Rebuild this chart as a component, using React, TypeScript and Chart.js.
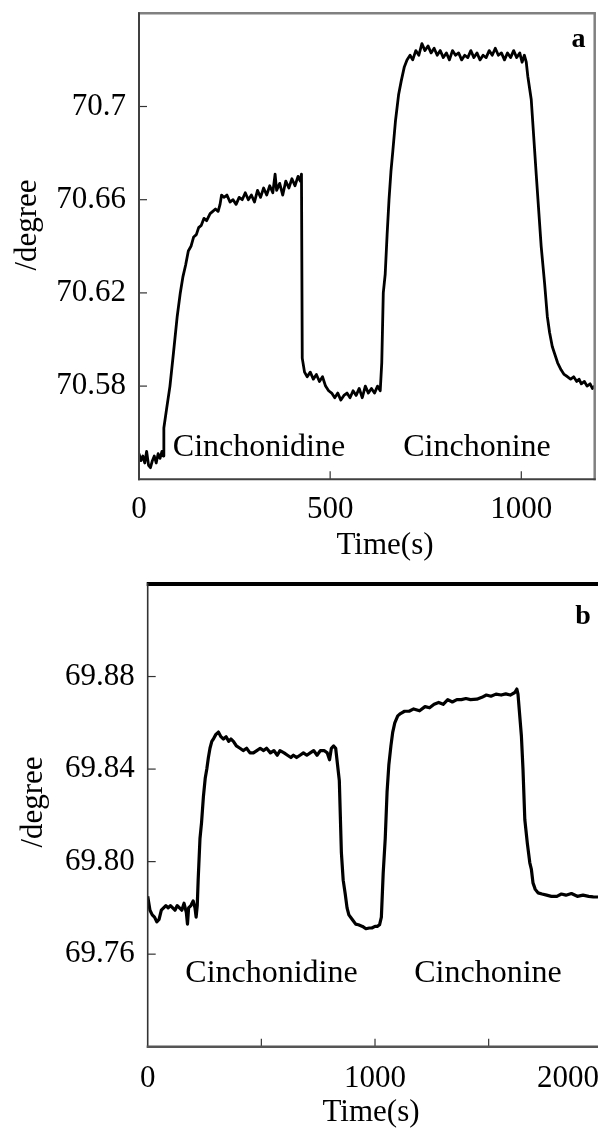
import React, { useEffect, useRef } from 'react';
import { Chart, registerables } from 'chart.js';

Chart.register(...registerables);

const FONT = '"Liberation Serif", "Times New Roman", serif';

// ---------- Panel a ----------
const timeA = [
  0, 5, 10, 15, 20, 25, 30, 35, 40, 45, 50, 55, 60, 63, 65, 72, 81, 90, 100, 108,
  115, 122, 129, 136, 143, 150, 156, 163, 170, 177, 186, 193, 200, 207, 212, 216, 222, 230, 238, 246,
  254, 262, 270, 278, 286, 294, 302, 310, 318, 326, 334, 342, 350, 356, 360, 368, 376, 384, 392, 400,
  408, 416, 422, 425, 427, 433, 440, 448, 456, 464, 472, 480, 488, 496, 504, 512, 520, 528, 536, 544,
  552, 560, 568, 576, 584, 592, 600, 608, 616, 624, 631, 635, 639, 644, 649, 654, 659, 664, 671, 679,
  686, 694, 701, 709, 716, 724, 732, 740, 748, 756, 764, 772, 780, 788, 796, 804, 812, 820, 828, 836,
  844, 852, 860, 868, 876, 884, 892, 900, 908, 916, 924, 932, 940, 948, 956, 964, 972, 980, 988, 996,
  1002, 1008, 1013, 1017, 1026, 1039, 1052, 1061, 1068, 1074, 1081, 1087, 1095, 1104, 1112, 1121, 1129, 1137, 1145, 1151,
  1157, 1165, 1172, 1180, 1186, 1192,
];
const angleA = [
  70.551, 70.548, 70.55, 70.547, 70.552, 70.546, 70.545, 70.548, 70.55, 70.547, 70.551, 70.549, 70.552, 70.55, 70.562, 70.57, 70.58, 70.594, 70.61, 70.62,
  70.627, 70.632, 70.638, 70.64, 70.644, 70.645, 70.648, 70.649, 70.652, 70.651, 70.654, 70.655, 70.656, 70.655, 70.658, 70.662, 70.661, 70.662, 70.659, 70.66,
  70.658, 70.661, 70.66, 70.663, 70.66, 70.662, 70.659, 70.664, 70.661, 70.665, 70.662, 70.666, 70.663, 70.671, 70.664, 70.667, 70.662, 70.668, 70.665, 70.669,
  70.666, 70.67, 70.668, 70.671, 70.592, 70.586, 70.584, 70.586, 70.583, 70.585, 70.582, 70.584, 70.58, 70.578, 70.577, 70.575, 70.577, 70.574, 70.576, 70.577,
  70.575, 70.578, 70.576, 70.579, 70.575, 70.58, 70.577, 70.579, 70.577, 70.58, 70.578, 70.59, 70.62, 70.628, 70.645, 70.66, 70.672, 70.681, 70.694, 70.705,
  70.711, 70.717, 70.72, 70.722, 70.72, 70.724, 70.722, 70.727, 70.724, 70.726, 70.723, 70.725, 70.722, 70.724, 70.721, 70.723, 70.72, 70.724, 70.722, 70.723,
  70.72, 70.722, 70.721, 70.724, 70.721, 70.723, 70.72, 70.722, 70.721, 70.724, 70.722, 70.725, 70.722, 70.723, 70.72, 70.723, 70.721, 70.724, 70.721, 70.723,
  70.719, 70.722, 70.719, 70.713, 70.703, 70.671, 70.64, 70.624, 70.61, 70.603, 70.597, 70.594, 70.59, 70.587, 70.585, 70.584, 70.583, 70.584, 70.582, 70.583,
  70.581, 70.582, 70.58, 70.581, 70.579, 70.58,
];
const yTicksA = [70.58, 70.62, 70.66, 70.7];
const xTickMarksA = [500, 1000];
const xLabelsA = [0, 500, 1000];

// ---------- Panel b ----------
const timeB = [
  0, 10, 20, 30, 40, 50, 60, 70, 80, 90, 100, 110, 120, 130, 140, 150, 160, 170, 175, 180,
  190, 200, 208, 213, 218, 222, 230, 237, 245, 253, 260, 267, 274, 282, 289, 300, 311, 322, 333, 345,
  356, 366, 377, 390, 406, 420, 435, 450, 465, 480, 495, 510, 523, 540, 555, 570, 582, 600, 615, 630,
  641, 655, 670, 685, 700, 715, 730, 745, 760, 776, 790, 800, 808, 818, 827, 835, 843, 852, 860, 869,
  877, 885, 900, 915, 927, 945, 960, 975, 986, 1000, 1010, 1020, 1028, 1036, 1045, 1053, 1061, 1070, 1078, 1087,
  1100, 1112, 1130, 1150, 1170, 1196, 1220, 1240, 1260, 1280, 1300, 1320, 1340, 1360, 1380, 1400, 1420, 1448, 1470, 1490,
  1510, 1532, 1555, 1575, 1595, 1615, 1624, 1629, 1644, 1651, 1659, 1670, 1681, 1688, 1695, 1705, 1717, 1735, 1755, 1776,
  1800, 1820, 1840, 1864, 1890, 1915, 1940, 1960, 1981,
];
const angleB = [
  69.785, 69.779, 69.777, 69.776, 69.774, 69.775, 69.779, 69.78, 69.781, 69.78, 69.781, 69.78, 69.779, 69.781, 69.78, 69.779, 69.782, 69.778, 69.773, 69.78,
  69.781, 69.783, 69.78, 69.776, 69.781, 69.792, 69.81, 69.817, 69.828, 69.836, 69.84, 69.845, 69.849, 69.852, 69.853, 69.855, 69.856, 69.854, 69.853, 69.854,
  69.852, 69.853, 69.852, 69.85, 69.849, 69.848, 69.849, 69.847, 69.847, 69.848, 69.849, 69.848, 69.849, 69.847, 69.848, 69.846, 69.848, 69.847, 69.846, 69.845,
  69.846, 69.845, 69.846, 69.847, 69.846, 69.847, 69.848, 69.846, 69.848, 69.848, 69.847, 69.844, 69.849, 69.85, 69.849, 69.842, 69.835, 69.804, 69.792, 69.786,
  69.78, 69.777, 69.775, 69.773, 69.7727, 69.772, 69.771, 69.7713, 69.7713, 69.772, 69.772, 69.7727, 69.776, 69.795, 69.81, 69.83, 69.842, 69.85, 69.856, 69.86,
  69.863, 69.864, 69.865, 69.865, 69.866, 69.8652, 69.867, 69.8665, 69.868, 69.8688, 69.868, 69.87, 69.869, 69.87, 69.87, 69.8705, 69.87, 69.8702, 69.871, 69.872,
  69.8715, 69.8724, 69.872, 69.8725, 69.872, 69.8731, 69.8746, 69.8724, 69.8543, 69.84, 69.8182, 69.808, 69.7995, 69.7966, 69.7908, 69.788, 69.7865, 69.786, 69.7855, 69.785,
  69.785, 69.786, 69.7855, 69.7862, 69.785, 69.7855, 69.785, 69.7848, 69.7847,
];
const yTicksB = [69.76, 69.8, 69.84, 69.88];
const xTickMarksB = [500, 1000, 1500];
const xLabelsB = [0, 1000, 2000];

const seriesLabel = 'Cinchonidine / Cinchonine';

const overlayPlugin = {
  id: 'overlay',
  afterDraw(chart: any, _args: any, o: any) {
    const ctx = chart.ctx;
    const a = chart.chartArea;
    const xs = chart.scales.x;
    const ys = chart.scales.y;
    const line = (x1: number, y1: number, x2: number, y2: number) => {
      ctx.beginPath();
      ctx.moveTo(x1, y1);
      ctx.lineTo(x2, y2);
      ctx.stroke();
    };
    ctx.save();
    // inward tick marks
    ctx.strokeStyle = '#333';
    ctx.lineWidth = 1.2;
    o.yTicks.forEach((v: number) => {
      const y = ys.getPixelForValue(v);
      line(a.left, y, a.left + 8, y);
    });
    o.xTicks.forEach((v: number) => {
      const x = xs.getPixelForValue(v);
      line(x, a.bottom, x, a.bottom - 8);
    });
    // frame
    o.frame.forEach((f: any) => {
      ctx.strokeStyle = f.color;
      ctx.lineWidth = f.width;
      if (f.side === 'left') line(a.left, a.top - f.ext, a.left, a.bottom + f.ext);
      if (f.side === 'right') line(a.right, a.top - f.ext, a.right, a.bottom + f.ext);
      if (f.side === 'top') line(a.left - f.ext, a.top, a.right + f.ext, a.top);
      if (f.side === 'bottom') line(a.left - f.ext, a.bottom, a.right + f.ext, a.bottom);
    });
    // x tick labels
    ctx.fillStyle = '#000';
    ctx.textAlign = 'center';
    ctx.textBaseline = 'middle';
    ctx.font = `31px ${FONT}`;
    o.xLabels.forEach((v: number) => {
      const s = String(v);
      const w = ctx.measureText(s).width;
      const x = Math.min(xs.getPixelForValue(v), chart.width - w / 2 + 1);
      ctx.fillText(s, x, a.bottom + o.xLabelGap);
    });
    // axis titles
    ctx.fillText(o.xTitle.text, o.xTitle.x, o.xTitle.y);
    ctx.save();
    ctx.translate(o.yTitle.x, o.yTitle.y);
    ctx.rotate(-Math.PI / 2);
    ctx.fillText(o.yTitle.text, 0, 0);
    ctx.restore();
    // notes
    o.notes.forEach((n: any) => {
      ctx.font = n.font;
      ctx.fillText(n.text, n.x, n.y);
    });
    ctx.restore();
  },
};

function makeConfig(
  times: number[],
  values: number[],
  xMax: number,
  yMin: number,
  yMax: number,
  yTicks: number[],
  yFmt: (v: number) => string,
  yWidth: number,
  xHeight: number,
  padding: any,
  lineWidth: number,
  overlay: any,
) {
  return {
    type: 'line',
    data: {
      datasets: [
        {
          label: seriesLabel,
          data: times.map((t, i) => ({ x: t, y: values[i] })),
          borderColor: '#000',
          borderWidth: lineWidth,
          pointRadius: 0,
          tension: 0,
          fill: false,
          borderJoinStyle: 'round',
        },
      ],
    },
    options: {
      animation: false,
      responsive: false,
      events: [],
      layout: { padding },
      plugins: {
        legend: { display: false },
        tooltip: { enabled: false },
        overlay,
      },
      scales: {
        x: {
          type: 'linear',
          min: 0,
          max: xMax,
          grid: { display: false, drawTicks: false },
          border: { display: false },
          ticks: { display: false },
          afterFit: (s: any) => {
            s.height = xHeight;
            s.paddingLeft = 0;
            s.paddingRight = 0;
          },
        },
        y: {
          type: 'linear',
          min: yMin,
          max: yMax,
          grid: { display: false, drawTicks: false },
          border: { display: false },
          ticks: {
            color: '#000',
            padding: 13,
            font: { family: FONT, size: 31 },
            autoSkip: false,
            callback: (v: number) => yFmt(v),
          },
          afterBuildTicks: (s: any) => {
            s.ticks = yTicks.map((v) => ({ value: v }));
          },
          afterFit: (s: any) => {
            s.width = yWidth;
            s.paddingTop = 0;
            s.paddingBottom = 0;
          },
        },
      },
    },
    plugins: [overlayPlugin],
  };
}

function Panel({ config, height }: { config: any; height: number }) {
  const ref = useRef<HTMLCanvasElement | null>(null);
  useEffect(() => {
    if (!ref.current) return;
    const chart = new Chart(ref.current, config);
    return () => chart.destroy();
  }, []);
  return <canvas ref={ref} width={598} height={height} style={{ display: 'block', width: 598, height }} />;
}

const configA = makeConfig(
  timeA,
  angleA,
  1192,
  70.54,
  70.74,
  yTicksA,
  (v) => String(v),
  139,
  85.7,
  { left: 0, top: 13.3, right: 3.3, bottom: 0 },
  2.8,
  {
    yTicks: yTicksA,
    xTicks: xTickMarksA,
    xLabels: xLabelsA,
    xLabelGap: 31,
    frame: [
      { side: 'top', color: '#808080', width: 2.5, ext: 1 },
      { side: 'right', color: '#808080', width: 2.5, ext: 1 },
      { side: 'left', color: '#404040', width: 2, ext: 1 },
      { side: 'bottom', color: '#404040', width: 2, ext: 1 },
    ],
    xTitle: { text: 'Time(s)', x: 385, y: 546 },
    yTitle: { text: '/degree', x: 28, y: 225 },
    notes: [
      { text: 'Cinchonidine', x: 259, y: 448, font: `32px ${FONT}` },
      { text: 'Cinchonine', x: 477, y: 448, font: `32px ${FONT}` },
      { text: 'a', x: 578.5, y: 40, font: `bold 28px ${FONT}` },
    ],
  },
);

const configB = makeConfig(
  timeB,
  angleB,
  1981,
  69.72,
  69.92,
  yTicksB,
  (v) => v.toFixed(2),
  147.7,
  82.3,
  { left: 0, top: 19, right: 0, bottom: 0 },
  3.2,
  {
    yTicks: yTicksB,
    xTicks: xTickMarksB,
    xLabels: xLabelsB,
    xLabelGap: 32,
    frame: [
      { side: 'top', color: '#000', width: 4, ext: 1 },
      { side: 'left', color: '#333', width: 1.6, ext: 1 },
      { side: 'bottom', color: '#555', width: 2.5, ext: 1 },
    ],
    xTitle: { text: 'Time(s)', x: 371, y: 547.5 },
    yTitle: { text: '/degree', x: 34, y: 237 },
    notes: [
      { text: 'Cinchonidine', x: 271.5, y: 409, font: `32px ${FONT}` },
      { text: 'Cinchonine', x: 488, y: 409, font: `32px ${FONT}` },
      { text: 'b', x: 583, y: 52, font: `bold 28px ${FONT}` },
    ],
  },
);

export default function App() {
  return (
    <div style={{ position: 'absolute', left: 0, top: 0, width: 598, height: 1129, background: '#fff', overflow: 'hidden' }}>
      <Panel config={configA} height={565} />
      <Panel config={configB} height={564} />
    </div>
  );
}
